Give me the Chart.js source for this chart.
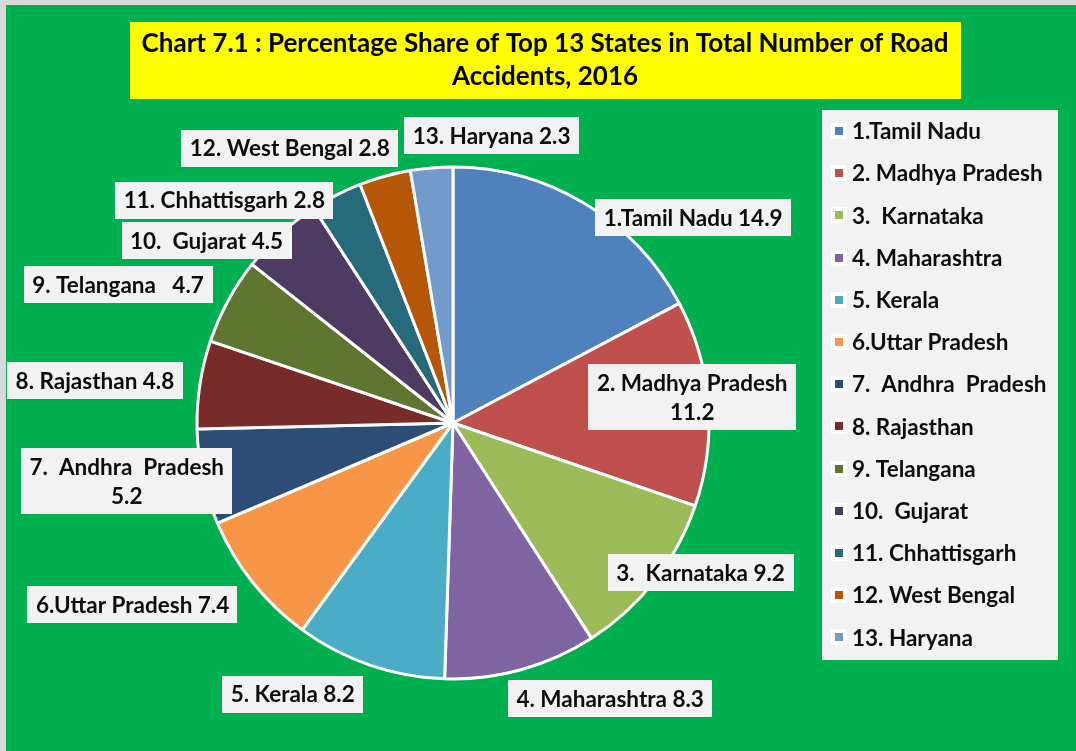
<!DOCTYPE html>
<html>
<head>
<meta charset="utf-8">
<script src="https://cdn.jsdelivr.net/npm/chart.js@4.4.1/dist/chart.umd.min.js"></script>
<style>
  html, body { margin: 0; padding: 0; background: #d9d9d9; }
  canvas { display: block; }
</style>
</head>
<body>
<canvas id="accidentChart" width="1076" height="751"></canvas>
<script>
// Data
var states = ["1.Tamil Nadu", "2. Madhya Pradesh", "3.  Karnataka", "4. Maharashtra", "5. Kerala",
    "6.Uttar Pradesh", "7.  Andhra  Pradesh", "8. Rajasthan", "9. Telangana", "10.  Gujarat",
    "11. Chhattisgarh", "12. West Bengal", "13. Haryana"];
var shares = [14.9, 11.2, 9.2, 8.3, 8.2, 7.4, 5.2, 4.8, 4.7, 4.5, 2.8, 2.8, 2.3];
var sliceColors = ["#4f81bd", "#c0504d", "#9bbb59", "#8064a2", "#4bacc6", "#f79646", "#2c4d75",
    "#772c2a", "#5f7530", "#4d3b62", "#276a7c", "#b65708", "#729aca"];
var titleLines = ["Chart 7.1 : Percentage Share of Top 13 States in Total Number of Road", "Accidents, 2016"];

// what goes between the state name and the value in the slice labels ("\n" = new line)
var labelGap = [" ", "\n", " ", " ", " ", " ", "\n", " ", "   ", " ", " ", " ", " "];
// where each label box sits, relative to the middle of its slice's outer edge
var labelOffsets = [[108, 14], [-16, -6], [46, -8], [89, 29], [-77, 29], [-120, 22], [-76, 4],
    [-105, -4], [-110, -16], [-74, 7], [-112, 5], [-95, -28], [60, -32]];

var FONT = "Lato, 'Open Sans', sans-serif";

// green panel with a thin grey frame at top and left
var backgroundPlugin = {
    id: "panel",
    beforeDraw: function (chart) {
        var ctx = chart.ctx;
        ctx.save();
        ctx.fillStyle = "#d9d9d9";
        ctx.fillRect(0, 0, chart.width, chart.height);
        ctx.fillStyle = "#00b050";
        ctx.fillRect(6, 5, chart.width - 6, chart.height - 5);

        // title in a yellow box
        ctx.fillStyle = "#ffff00";
        ctx.fillRect(130, 22, 831, 77);
        ctx.fillStyle = "#000";
        ctx.font = "bold 26px " + FONT;
        ctx.textAlign = "center";
        ctx.textBaseline = "middle";
        ctx.fillText(titleLines[0], 545, 44);
        ctx.fillText(titleLines[1], 545, 77);
        ctx.restore();
    }
};

// grey boxes with state name and share next to each slice
var sliceLabelPlugin = {
    id: "sliceLabels",
    afterDatasetsDraw: function (chart) {
        var ctx = chart.ctx;
        var meta = chart.getDatasetMeta(0);
        var values = chart.data.datasets[0].data;
        ctx.save();
        ctx.font = "bold 22.5px " + FONT;
        ctx.textAlign = "center";
        ctx.textBaseline = "middle";
        meta.data.forEach(function (arc, i) {
            var p = arc.getProps(["x", "y", "startAngle", "endAngle", "outerRadius"], true);
            var mid = (p.startAngle + p.endAngle) / 2;
            var cx = p.x + Math.cos(mid) * p.outerRadius + labelOffsets[i][0];
            var cy = p.y + Math.sin(mid) * p.outerRadius + labelOffsets[i][1];
            var lines = (chart.data.labels[i] + labelGap[i] + values[i].toFixed(1)).split("\n");
            var w = 0;
            lines.forEach(function (l) { w = Math.max(w, ctx.measureText(l).width); });
            var lineH = 29;
            var boxW = w + 17, boxH = lines.length * lineH + 8;
            ctx.fillStyle = "#f2f2f2";
            ctx.fillRect(Math.round(cx - boxW / 2), Math.round(cy - boxH / 2), Math.round(boxW), Math.round(boxH));
            ctx.fillStyle = "#0d0d0d";
            lines.forEach(function (l, k) {
                ctx.fillText(l, cx, cy + (k - (lines.length - 1) / 2) * lineH + 1);
            });
        });
        ctx.restore();
    }
};

// legend panel on the right
var legendPlugin = {
    id: "sideLegend",
    afterDraw: function (chart) {
        var ctx = chart.ctx;
        var colors = chart.data.datasets[0].backgroundColor;
        ctx.save();
        ctx.fillStyle = "#f2f2f2";
        ctx.fillRect(822, 110, 236, 550);
        ctx.font = "bold 22.5px " + FONT;
        ctx.textAlign = "left";
        ctx.textBaseline = "middle";
        chart.data.labels.forEach(function (name, i) {
            var y = 131 + i * 42.2;
            ctx.fillStyle = "#ffffff";
            ctx.fillRect(831, Math.round(y) - 8, 16, 16);
            ctx.fillStyle = colors[i];
            ctx.fillRect(835, Math.round(y) - 4, 8, 8);
            ctx.fillStyle = "#0d0d0d";
            ctx.fillText(name, 852, y + 1);
        });
        ctx.restore();
    }
};

var ctx = document.getElementById("accidentChart").getContext("2d");
var accidentChart = new Chart(ctx, {
    type: "pie",
    data: {
        labels: states,
        datasets: [{
            data: shares,
            backgroundColor: sliceColors,
            borderColor: "#ffffff",
            borderWidth: 3
        }]
    },
    options: {
        responsive: false,
        animation: false,
        devicePixelRatio: 1,
        radius: 256,
        layout: { padding: { left: 197, top: 167, right: 367, bottom: 72 } },
        plugins: {
            legend: { display: false },
            tooltip: { enabled: false }
        }
    },
    plugins: [backgroundPlugin, sliceLabelPlugin, legendPlugin]
});
</script>
</body>
</html>
